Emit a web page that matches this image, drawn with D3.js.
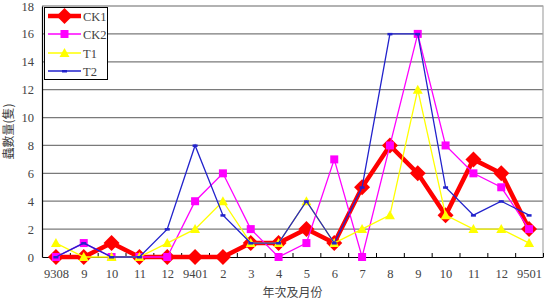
<!DOCTYPE html>
<html>
<head>
<meta charset="utf-8">
<script src="https://cdn.jsdelivr.net/npm/d3@7"></script>
<style>
  body { margin: 0; background: #fff; }
  svg text.serif { font-family: "Liberation Serif", "DejaVu Serif", "Times New Roman", serif !important; }
</style>
</head>
<body>
<div id="chart"></div>
<script>
var months = ["9308", "9", "10", "11", "12", "9401", "2", "3", "4", "5", "6", "7", "8", "9", "10", "11", "12", "9501"];
var ck1 = [0, 0, 1, 0, 0, 0, 0, 1, 1, 2, 1, 5, 8, 6, 3, 7, 6, 2];
var ck2 = [0, 1, 0, 0, 0, 4, 6, 2, 0, 1, 7, 0, 8, 16, 8, 6, 5, 2];
var t1 = [1, 0, 0, 0, 1, 2, 4, 1, 1, 4, 1, 2, 3, 12, 3, 2, 2, 1];
var t2 = [0, 1, 0, 0, 2, 8, 3, 1, 1, 4, 1, 5, 16, 16, 5, 3, 4, 3];
var yTicks = [0, 2, 4, 6, 8, 10, 12, 14, 16, 18];

function init() {
    var width = 548;
    var height = 301;
    var left = 42, right = 543, top = 6, bottom = 257;

    var svg = d3.select("#chart")
                .append("svg")
                .attr("width", width)
                .attr("height", height);

    var xScale = d3.scalePoint()
                   .domain(d3.range(months.length))
                   .range([left, right])
                   .padding(0.5);

    var xEdge = d3.scaleLinear()
                  .domain([0, months.length])
                  .range([left, right]);

    var yScale = d3.scaleLinear()
                   .domain([0, 18])
                   .range([bottom, top]);

    // gridlines
    svg.append("g")
        .selectAll("line")
        .data(yTicks.slice(1))
        .enter()
        .append("line")
        .attr("x1", left)
        .attr("x2", right)
        .attr("y1", function(d) { return yScale(d); })
        .attr("y2", function(d) { return yScale(d); })
        .attr("stroke", "#7a7a7a")
        .attr("stroke-width", 1.2);

    // plot border (top and right)
    svg.append("path")
        .attr("d", "M" + left + "," + top + "H" + right + "V" + bottom)
        .attr("fill", "none")
        .attr("stroke", "#a8a8a8")
        .attr("stroke-width", 1.2);

    // Y axis
    var yAxis = d3.axisLeft(yScale)
                  .tickValues(yTicks)
                  .tickSize(0)
                  .tickPadding(8);
    var gy = svg.append("g")
        .attr("transform", "translate(" + left + ",0)")
        .call(yAxis);
    gy.attr("font-family", null);
    gy.select(".domain").attr("stroke", "#000").attr("stroke-width", 1.2);
    gy.selectAll("text")
        .attr("class", "serif")
        .style("font-size", "12.5px")
        .attr("fill", "#444");

    // X axis tick marks at category edges
    var edgeAxis = d3.axisBottom(xEdge)
                     .tickValues(d3.range(months.length + 1))
                     .tickFormat("")
                     .tickSizeInner(-4)
                     .tickSizeOuter(0);
    var ge = svg.append("g")
        .attr("transform", "translate(0," + bottom + ")")
        .call(edgeAxis);
    ge.select(".domain").attr("stroke", "#000").attr("stroke-width", 1.2);
    ge.selectAll("line").attr("stroke", "#000");

    // X axis labels
    var xAxis = d3.axisBottom(xScale)
                  .tickFormat(function(i) { return months[i]; })
                  .tickSize(0)
                  .tickPadding(12);
    var gx = svg.append("g")
        .attr("transform", "translate(0," + bottom + ")")
        .call(xAxis);
    gx.attr("font-family", null);
    gx.select(".domain").remove();
    gx.selectAll("text")
        .attr("class", "serif")
        .style("font-size", "12.5px")
        .attr("fill", "#444");

    // axis titles
    svg.append("text")
        .attr("x", (left + right) / 2)
        .attr("y", 297)
        .attr("text-anchor", "middle")
        .style("font-size", "12px")
        .style("font-family", "'Noto Sans CJK TC', sans-serif")
        .attr("fill", "#444")
        .text("年次及月份");

    svg.append("text")
        .attr("transform", "translate(13," + ((top + bottom) / 2) + ") rotate(-90)")
        .attr("text-anchor", "middle")
        .style("font-size", "12px")
        .style("font-family", "'Noto Sans CJK TC', sans-serif")
        .attr("fill", "#444")
        .text("蟲數量(隻)");

    var series = [
        { name: "CK1", values: ck1, color: "#ff0000", width: 4.5, marker: "diamond" },
        { name: "CK2", values: ck2, color: "#ff00ff", width: 1.3, marker: "square" },
        { name: "T1", values: t1, color: "#ffff00", width: 1.3, marker: "triangle" },
        { name: "T2", values: t2, color: "#2222cc", width: 1.3, marker: "dash" }
    ];

    var line = d3.line()
                 .x(function(d, i) { return xScale(i); })
                 .y(function(d) { return yScale(d); });

    function drawMarker(g, type, color, x, y) {
        if (type == "diamond") {
            g.append("path")
                .attr("d", "M" + x + "," + (y - 8) + "L" + (x + 8) + "," + y + "L" + x + "," + (y + 8) + "L" + (x - 8) + "," + y + "Z")
                .attr("fill", color);
        } else if (type == "square") {
            g.append("rect")
                .attr("x", x - 4).attr("y", y - 4)
                .attr("width", 8).attr("height", 8)
                .attr("fill", color);
        } else if (type == "triangle") {
            g.append("path")
                .attr("d", "M" + x + "," + (y - 5) + "L" + (x + 5) + "," + (y + 4) + "L" + (x - 5) + "," + (y + 4) + "Z")
                .attr("fill", color);
        } else {
            g.append("rect")
                .attr("x", x - 2.5).attr("y", y - 1)
                .attr("width", 5).attr("height", 2.5)
                .attr("fill", color);
        }
    }

    series.forEach(function(s) {
        var g = svg.append("g");
        g.append("path")
            .datum(s.values)
            .attr("d", line)
            .attr("fill", "none")
            .attr("stroke", s.color)
            .attr("stroke-width", s.width)
            .attr("stroke-linejoin", "miter");
        s.values.forEach(function(v, i) {
            drawMarker(g, s.marker, s.color, xScale(i), yScale(v));
        });
    });

    // legend
    var legend = svg.append("g");
    legend.append("rect")
        .attr("x", 44.5).attr("y", 7.5)
        .attr("width", 63).attr("height", 72)
        .attr("fill", "#fff")
        .attr("stroke", "#000")
        .attr("stroke-width", 1);

    var legendY = [16, 34, 53, 71];
    series.forEach(function(s, i) {
        var y = legendY[i];
        legend.append("line")
            .attr("x1", 48).attr("x2", 81)
            .attr("y1", y).attr("y2", y)
            .attr("stroke", s.color)
            .attr("stroke-width", s.width);
        drawMarker(legend, s.marker, s.color, 64.5, y);
        legend.append("text")
            .attr("class", "serif")
            .attr("x", 83)
            .attr("y", y + 4.5)
            .style("font-size", "12.5px")
            .attr("fill", "#444")
            .text(s.name);
    });
}

window.onload = init;
</script>
</body>
</html>
